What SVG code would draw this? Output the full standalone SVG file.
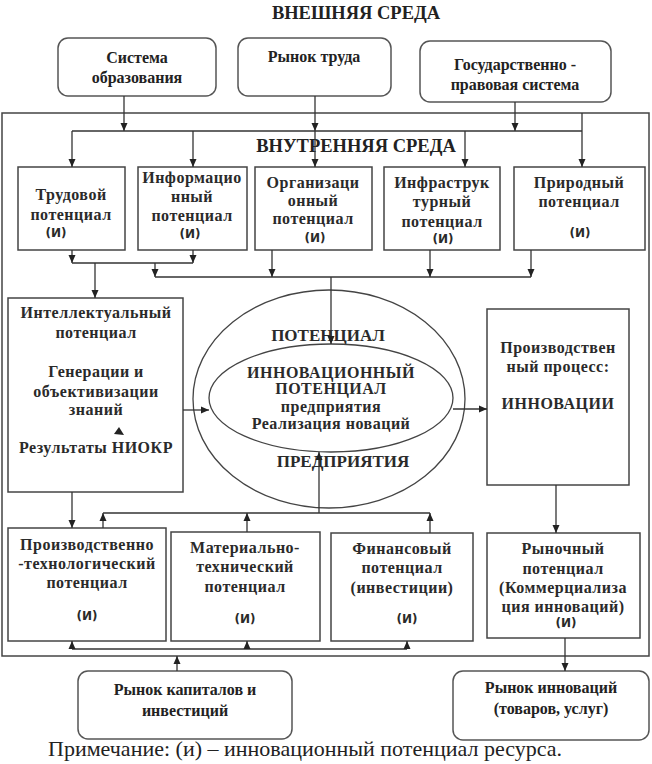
<svg xmlns="http://www.w3.org/2000/svg" width="652" height="764" viewBox="0 0 652 764">
<defs>
<marker id="a" markerWidth="8" markerHeight="8" refX="8" refY="4" orient="auto" markerUnits="userSpaceOnUse"><path d="M0,0.5 L8,4 L0,7.5 z" fill="#222"/></marker>
<style>
.box{fill:#fff;stroke:#444;stroke-width:1.5}
.rb{fill:#fff;stroke:#555;stroke-width:1.5}
.ln{fill:none;stroke:#333;stroke-width:1.3}
.ar{fill:none;stroke:#333;stroke-width:1.3;marker-end:url(#a)}
.t{font-family:"Liberation Serif",serif;font-weight:bold;font-size:16px;fill:#222;text-anchor:middle}
.h{font-family:"Liberation Serif",serif;font-weight:bold;font-size:18.5px;fill:#222;text-anchor:middle}
.b{font-family:"Liberation Serif",serif;font-weight:bold;font-size:16px;letter-spacing:0.5px;fill:#2a2a2a;text-anchor:middle}
.c{font-family:"Liberation Serif",serif;font-weight:bold;font-size:17px;fill:#2a2a2a;text-anchor:middle}
.i{font-family:"DejaVu Sans",sans-serif;font-weight:bold;font-size:12px;fill:#2a2a2a;text-anchor:middle}
.n{font-family:"Liberation Serif",serif;font-size:22px;fill:#222}
</style>
</defs>
<rect width="652" height="764" fill="#fff"/>
<text class="h" x="356" y="19">ВНЕШНЯЯ СРЕДА</text>
<rect id="outer" x="2" y="113" width="647" height="543" fill="none" stroke="#444" stroke-width="1.5"/>
<text class="h" x="356" y="152">ВНУТРЕННЯЯ СРЕДА</text>

<g id="edu"><rect class="rb" x="58" y="38" width="158" height="58" rx="10"/><text class="t" x="137" y="63">Система</text><text class="t" x="137" y="83">образования</text></g>
<g id="labor"><rect class="rb" x="238" y="38" width="153" height="58" rx="10"/><text class="t" x="314" y="62">Рынок труда</text></g>
<g id="gov"><rect class="rb" x="420" y="41" width="191" height="61" rx="10"/><text class="t" x="515" y="70">Государственно -</text><text class="t" x="515" y="90">правовая система</text></g>

<g id="trud"><rect class="box" x="18" y="167" width="107" height="83"/><text class="b" x="71" y="200">Трудовой</text><text class="b" x="71" y="220">потенциал</text><text class="i" x="56" y="237">(И)</text></g>
<g id="inform"><rect class="box" x="138" y="167" width="109" height="83"/><text class="b" x="192" y="183">Информацио</text><text class="b" x="192" y="202">нный</text><text class="b" x="192" y="221">потенциал</text><text class="i" x="190" y="238">(И)</text></g>
<g id="org"><rect class="box" x="255" y="167" width="117" height="83"/><text class="b" x="313" y="188">Организаци</text><text class="b" x="313" y="206">онный</text><text class="b" x="313" y="224">потенциал</text><text class="i" x="315" y="242">(И)</text></g>
<g id="infra"><rect class="box" x="384" y="167" width="116" height="83"/><text class="b" x="442" y="188">Инфраструк</text><text class="b" x="442" y="207">турный</text><text class="b" x="442" y="227">потенциал</text><text class="i" x="443" y="243">(И)</text></g>
<g id="prirod"><rect class="box" x="514" y="167" width="131" height="83"/><text class="b" x="579" y="188">Природный</text><text class="b" x="579" y="207">потенциал</text><text class="i" x="580" y="237">(И)</text></g>

<g id="intel"><rect class="box" x="8" y="298" width="175" height="194"/><text class="b" x="96" y="318">Интеллектуальный</text><text class="b" x="96" y="338">потенциал</text><text class="b" x="96" y="377">Генерации и</text><text class="b" x="96" y="397">объективизации</text><text class="b" x="96" y="415">знаний</text><text class="b" x="96" y="453">Результаты НИОКР</text></g>

<g id="potential"><ellipse cx="329" cy="399" rx="136" ry="109" fill="none" stroke="#444" stroke-width="1.3"/><text class="c" x="328" y="341">ПОТЕНЦИАЛ</text><text class="c" x="343" y="467">ПРЕДПРИЯТИЯ</text></g>
<g id="innov"><ellipse cx="331" cy="398" rx="122" ry="54" fill="none" stroke="#444" stroke-width="1.3"/><text class="b" x="331" y="378">ИННОВАЦИОННЫЙ</text><text class="b" x="331" y="394">ПОТЕНЦИАЛ</text><text class="b" x="331" y="412">предприятия</text><text class="b" x="331" y="429">Реализация новаций</text></g>

<g id="proc"><rect class="box" x="487" y="309" width="142" height="176"/><text class="b" x="558" y="353">Производствен</text><text class="b" x="558" y="372">ный процесс:</text><text class="b" x="558" y="409">ИННОВАЦИИ</text></g>

<g id="prodtech"><rect class="box" x="8" y="528" width="158" height="113"/><text class="b" x="87" y="550">Производственно</text><text class="b" x="87" y="569">-технологический</text><text class="b" x="87" y="588">потенциал</text><text class="i" x="87" y="620">(И)</text></g>
<g id="mattech"><rect class="box" x="171" y="532" width="149" height="109"/><text class="b" x="245" y="553">Материально-</text><text class="b" x="245" y="572">технический</text><text class="b" x="245" y="592">потенциал</text><text class="i" x="245" y="623">(И)</text></g>
<g id="fin"><rect class="box" x="331" y="533" width="142" height="108"/><text class="b" x="402" y="554">Финансовый</text><text class="b" x="402" y="573">потенциал</text><text class="b" x="402" y="593">(инвестиции)</text><text class="i" x="407" y="623">(И)</text></g>
<g id="market"><rect class="box" x="487" y="533" width="153" height="105"/><text class="b" x="563" y="554">Рыночный</text><text class="b" x="563" y="574">потенциал</text><text class="b" x="563" y="593">(Коммерциализа</text><text class="b" x="563" y="612">ция инноваций)</text><text class="i" x="566" y="627">(И)</text></g>

<g id="capital"><rect class="rb" x="78" y="671" width="214" height="68" rx="10"/><text class="t" x="185" y="695">Рынок капиталов и</text><text class="t" x="185" y="716">инвестиций</text></g>
<g id="innomarket"><rect class="rb" x="453" y="671" width="196" height="69" rx="10"/><text class="t" x="551" y="693">Рынок инноваций</text><text class="t" x="551" y="714">(товаров, услуг)</text></g>

<g id="connectors">
<path class="ar" d="M124,96 V131"/>
<path class="ar" d="M315,96 V131"/>
<path class="ar" d="M315,131 V167"/>
<path class="ar" d="M515,102 V131"/>
<path class="ln" d="M72,131 H582"/>
<path class="ar" d="M582,113 V167"/>
<path class="ar" d="M72,131 V167"/>
<path class="ar" d="M193,131 V167"/>
<path class="ar" d="M465,131 V167"/>
<path class="ar" d="M72,250 V263"/>
<path class="ar" d="M193,250 V263"/>
<path class="ln" d="M72,263 H193"/>
<path class="ar" d="M95,263 V298"/>
<path class="ar" d="M155,263 V277"/>
<path class="ln" d="M155,277 H531"/>
<path class="ar" d="M272,250 V277"/>
<path class="ar" d="M430,250 V277"/>
<path class="ar" d="M531,250 V277"/>
<path class="ar" d="M331,277 V344"/>
<path class="ar" d="M183,410 H209"/>
<path class="ar" d="M453,409 H487"/>
<path class="ar" d="M556,485 V533"/>
<path class="ar" d="M72,492 V528"/>
<path class="ar" d="M103,528 V513"/>
<path class="ln" d="M103,513 H430"/>
<path class="ar" d="M247,532 V513"/>
<path class="ar" d="M430,533 V513"/>
<path class="ar" d="M319,513 V452"/>
<path class="ln" d="M72,649 H407"/>
<path class="ar" d="M72,649 V641"/>
<path class="ar" d="M247,649 V641"/>
<path class="ar" d="M407,649 V641"/>
<path class="ar" d="M177,671 V656"/>
<path class="ar" d="M565,638 V671"/>
<polygon points="119,427 124,435 114,434" fill="#222"/>
</g>

<text class="n" x="48" y="756">Примечание: (и) – инновационный потенциал ресурса.</text>
</svg>
